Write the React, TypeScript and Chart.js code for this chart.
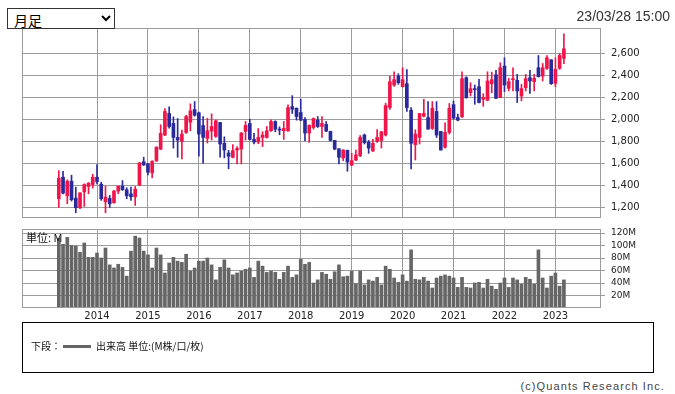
import React, { useEffect, useRef } from 'react';
import { Chart, registerables } from 'chart.js';

Chart.register(...registerables);

// Monthly candles, 2013/04 .. 2023/03
const yearLabels = ['2014', '2015', '2016', '2017', '2018', '2019', '2020', '2021', '2022', '2023'];
const firstMonthOffset = 9; // index of 2014/01 (series starts 2013/04)

const openP = [
  1276, 1473, 1303, 1436, 1282, 1194, 1339, 1388, 1406, 1473, 1409, 1248, 1279, 1239, 1346, 1391, 1358, 1321, 1294, 1400,
  1615, 1594, 1512, 1624, 1730, 1858, 2055, 1964, 1836, 1800, 1882, 1976, 2091, 2061, 1945, 1827, 1894, 1846, 1973, 1782,
  1694, 1655, 1721, 1730, 1891, 1964, 1818, 1794, 1836, 1836, 1897, 1982, 1912, 1897, 1897, 2118, 2103, 2064, 2000, 1876,
  1927, 1994, 1936, 1955, 1891, 1809, 1733, 1649, 1718, 1582, 1630, 1670, 1858, 1791, 1712, 1800, 1809, 1858, 2109, 2315,
  2397, 2300, 2327, 2085, 1770, 1836, 2030, 2018, 1918, 2073, 1891, 1746, 1882, 2136, 2018, 2024, 2382, 2245, 2282, 2300,
  2185, 2176, 2327, 2409, 2200, 2488, 2285, 2364, 2358, 2215, 2291, 2382, 2346, 2473, 2397, 2467, 2546, 2330, 2467, 2558,
];
const closeP = [
  1464, 1327, 1436, 1267, 1194, 1330, 1406, 1418, 1473, 1433, 1276, 1291, 1230, 1346, 1391, 1358, 1303, 1294, 1364, 1603,
  1585, 1518, 1618, 1746, 1873, 2073, 1936, 1836, 1812, 1867, 2027, 2079, 2039, 1867, 1836, 1897, 1936, 1988, 1776, 1721,
  1664, 1715, 1736, 1876, 1946, 1818, 1794, 1836, 1858, 1897, 1982, 1912, 1903, 1918, 2109, 2094, 2027, 1994, 1876, 1946,
  2009, 1936, 1964, 1894, 1809, 1730, 1655, 1721, 1612, 1624, 1676, 1836, 1788, 1739, 1782, 1836, 1888, 2127, 2346, 2364,
  2336, 2364, 2109, 1782, 1867, 2055, 2055, 1912, 2103, 1858, 1721, 1882, 2103, 2012, 1994, 2373, 2200, 2282, 2273, 2155,
  2200, 2352, 2364, 2194, 2473, 2315, 2346, 2373, 2261, 2282, 2373, 2352, 2376, 2391, 2473, 2564, 2327, 2458, 2585, 2646,
];
const highP = [
  1533, 1527, 1449, 1491, 1382, 1330, 1412, 1424, 1500, 1588, 1427, 1391, 1306, 1352, 1391, 1442, 1376, 1382, 1388, 1609,
  1655, 1600, 1624, 1752, 1952, 2100, 2115, 2024, 2009, 1903, 2039, 2143, 2164, 2067, 2027, 2012, 2052, 1994, 1973, 1842,
  1718, 1770, 1752, 1882, 1982, 2003, 1873, 1918, 1888, 1936, 1997, 1988, 1933, 1982, 2133, 2218, 2106, 2185, 2018, 1952,
  2015, 2027, 2027, 1982, 1894, 1809, 1733, 1724, 1721, 1691, 1721, 1852, 1867, 1809, 1818, 1909, 1891, 2149, 2397, 2436,
  2418, 2473, 2455, 2109, 1906, 2055, 2185, 2164, 2164, 2164, 1891, 1970, 2146, 2170, 2049, 2436, 2391, 2336, 2315, 2367,
  2236, 2436, 2433, 2449, 2518, 2564, 2376, 2473, 2412, 2321, 2412, 2449, 2412, 2585, 2512, 2585, 2546, 2564, 2603, 2782,
];
const lowP = [
  1197, 1321, 1230, 1255, 1148, 1185, 1206, 1321, 1373, 1412, 1261, 1148, 1197, 1236, 1321, 1352, 1276, 1261, 1215, 1394,
  1579, 1494, 1467, 1615, 1724, 1852, 1921, 1739, 1655, 1640, 1873, 1897, 2030, 1664, 1600, 1785, 1812, 1836, 1655, 1649,
  1549, 1649, 1594, 1594, 1812, 1812, 1776, 1779, 1752, 1830, 1891, 1888, 1861, 1818, 1891, 2055, 1994, 1988, 1806, 1791,
  1912, 1927, 1836, 1888, 1803, 1724, 1594, 1624, 1527, 1579, 1624, 1661, 1776, 1691, 1709, 1791, 1739, 1849, 2091, 2303,
  2321, 2297, 2073, 1549, 1630, 1776, 2024, 1912, 1909, 1836, 1721, 1739, 1867, 2003, 1988, 2018, 2194, 2215, 2139, 2152,
  2121, 2170, 2245, 2191, 2200, 2255, 2261, 2261, 2155, 2170, 2261, 2239, 2261, 2388, 2352, 2458, 2321, 2300, 2458, 2509,
];
// Volume in millions
const volumeM = [
  112, 102, 113, 100, 99, 89, 104, 81, 81, 88, 80, 96, 69, 64, 70, 65, 51, 91, 115, 112,
  91, 85, 64, 96, 85, 56, 72, 81, 75, 73, 86, 59, 64, 75, 75, 80, 69, 45, 65, 77,
  64, 53, 56, 59, 62, 64, 49, 75, 67, 57, 59, 57, 46, 57, 67, 49, 53, 78, 70, 73,
  40, 45, 57, 54, 46, 58, 69, 50, 51, 59, 39, 59, 37, 45, 43, 49, 37, 67, 62, 48,
  41, 53, 43, 93, 46, 45, 49, 43, 32, 48, 51, 53, 51, 48, 33, 49, 33, 32, 40, 41,
  32, 46, 35, 30, 40, 48, 33, 48, 45, 38, 49, 46, 38, 93, 48, 32, 51, 56, 35, 45,
];
const priceTicks = [1200, 1400, 1600, 1800, 2000, 2200, 2400, 2600];
const volumeTicks = [20, 40, 60, 80, 100, 120];

const UP = '#f0154a';
const DOWN = '#2a2a9c';
const GRID = '#9c9c9c';
const VOL = '#666666';
const X_MIN = -8.67;
const X_MAX = 127.74;

const framePlugin = {
  id: 'frame',
  afterDatasetsDraw(chart: any) {
    const { ctx, chartArea: a } = chart;
    ctx.save();
    ctx.strokeStyle = GRID;
    ctx.lineWidth = 1;
    const l = Math.round(a.left) + 0.5;
    const t = Math.round(a.top) + 0.5;
    const r = Math.round(a.right) - 0.5;
    const b = Math.round(a.bottom) - 0.5;
    ctx.strokeRect(l, t, r - l, b - t);
    ctx.restore();
  },
};

const noPad = (s: any) => {
  s.paddingTop = 0;
  s.paddingBottom = 0;
  s.paddingLeft = 0;
  s.paddingRight = 0;
};

export default function App() {
  const mainRef = useRef<HTMLCanvasElement>(null);
  const volRef = useRef<HTMLCanvasElement>(null);

  useEffect(() => {
    Chart.defaults.font.family = '"DejaVu Sans", sans-serif';
    const idx = openP.map((_, i) => i);
    const colors = idx.map((i) => (closeP[i] >= openP[i] ? UP : DOWN));
    const yearTickValues = yearLabels.map((_, k) => firstMonthOffset + 12 * k);

    const main = new Chart(mainRef.current as HTMLCanvasElement, {
      type: 'bar',
      data: {
        datasets: [
          {
            data: idx.map((i) => ({ x: i, y: [lowP[i], highP[i]] })) as any,
            backgroundColor: colors,
            barThickness: 1,
            grouped: false,
            minBarLength: 1,
          },
          {
            data: idx.map((i) => ({ x: i, y: [openP[i], closeP[i]] })) as any,
            backgroundColor: colors,
            barThickness: 3,
            grouped: false,
            minBarLength: 1,
          },
        ],
      },
      options: {
        animation: false,
        responsive: false,
        layout: { padding: { left: 22, top: 28, right: 0, bottom: 7 } },
        plugins: { legend: { display: false }, tooltip: { enabled: false } },
        scales: {
          x: {
            type: 'linear',
            offset: false,
            min: X_MIN,
            max: X_MAX,
            afterBuildTicks: (s: any) => {
              s.ticks = yearTickValues.map((v) => ({ value: v }));
            },
            afterFit: (s: any) => {
              s.height = 0;
              noPad(s);
            },
            ticks: { display: false },
            grid: { color: GRID, drawTicks: false, offset: false },
            border: { display: false },
          },
          y: {
            position: 'right',
            min: 1100,
            max: 2836,
            afterBuildTicks: (s: any) => {
              s.ticks = priceTicks.map((v) => ({ value: v }));
            },
            afterFit: (s: any) => {
              s.width = 74;
              noPad(s);
            },
            ticks: {
              color: '#222',
              font: { size: 10 },
              padding: 6,
              callback: (v: any) => Number(v).toLocaleString('en-US'),
            },
            grid: { color: GRID, tickLength: 4 },
            border: { display: false },
          },
        },
      },
      plugins: [framePlugin],
    });

    const vol = new Chart(volRef.current as HTMLCanvasElement, {
      type: 'bar',
      data: {
        datasets: [
          {
            data: idx.map((i) => ({ x: i, y: volumeM[i] })) as any,
            backgroundColor: VOL,
            barThickness: 3,
          },
        ],
      },
      options: {
        animation: false,
        responsive: false,
        layout: { padding: { left: 22, top: 7, right: 0, bottom: 0 } },
        plugins: { legend: { display: false }, tooltip: { enabled: false } },
        scales: {
          x: {
            type: 'linear',
            offset: false,
            min: X_MIN,
            max: X_MAX,
            afterBuildTicks: (s: any) => {
              s.ticks = yearTickValues.map((v) => ({ value: v }));
            },
            afterFit: (s: any) => {
              s.height = 14;
              noPad(s);
            },
            ticks: {
              color: '#222',
              font: { size: 10 },
              padding: 2,
              maxRotation: 0,
              autoSkip: false,
              callback: (_v: any, i: number) => yearLabels[i],
            },
            grid: { color: GRID, drawTicks: false, offset: false },
            border: { display: false },
          },
          y: {
            position: 'right',
            min: 0,
            max: 126.4,
            afterBuildTicks: (s: any) => {
              s.ticks = volumeTicks.map((v) => ({ value: v }));
            },
            afterFit: (s: any) => {
              s.width = 74;
              noPad(s);
            },
            ticks: {
              color: '#222',
              font: { size: 9 },
              padding: 6,
              callback: (v: any) => `${v}M`,
            },
            grid: { color: GRID, tickLength: 4 },
            border: { display: false },
          },
        },
      },
      plugins: [framePlugin],
    });

    return () => {
      main.destroy();
      vol.destroy();
    };
  }, []);

  const cjk = '"Noto Sans CJK JP", "Noto Sans", sans-serif';

  return (
    <div style={{ position: 'absolute', left: 0, top: 0, width: 675, height: 394, background: '#fff', overflow: 'hidden' }}>
      <canvas ref={mainRef} width={675} height={225} style={{ position: 'absolute', left: 0, top: 0 }} />
      <canvas ref={volRef} width={675} height={100} style={{ position: 'absolute', left: 0, top: 222 }} />
      <select
        defaultValue="月足"
        style={{
          position: 'absolute',
          left: 7,
          top: 8,
          width: 108,
          height: 21,
          fontSize: 14,
          fontFamily: cjk,
          border: '1px solid #333',
          borderRadius: 0,
          background: '#fff',
          padding: '0 2px',
        }}
      >
        <option value="月足">月足</option>
      </select>
      <div
        style={{
          position: 'absolute',
          right: 5,
          top: 8,
          fontSize: 14,
          fontFamily: '"Liberation Sans", Arial, sans-serif',
          color: '#333',
          lineHeight: '16px',
        }}
      >
        23/03/28 15:00
      </div>
      <div
        style={{
          position: 'absolute',
          left: 26,
          top: 230,
          fontSize: 11,
          fontFamily: cjk,
          color: '#111',
          lineHeight: '14px',
        }}
      >
        単位: M
      </div>
      <div
        style={{
          position: 'absolute',
          left: 22,
          top: 322,
          width: 632,
          height: 51,
          border: '1px solid #000',
          boxSizing: 'border-box',
        }}
      >
        <div
          style={{
            position: 'absolute',
            left: 8,
            top: 16,
            fontSize: 10,
            fontFamily: cjk,
            color: '#111',
            display: 'flex',
            alignItems: 'center',
            lineHeight: '14px',
            whiteSpace: 'nowrap',
          }}
        >
          <span>下段：</span>
          <span style={{ display: 'inline-block', width: 28, height: 3, background: VOL, margin: '0 5px 0 2px' }} />
          <span>出来高 単位:(M株/口/枚)</span>
        </div>
      </div>
      <div
        style={{
          position: 'absolute',
          right: 10,
          top: 379,
          fontSize: 11,
          fontFamily: '"Liberation Sans", Arial, sans-serif',
          color: '#444',
          lineHeight: '14px',
          letterSpacing: '1.1px',
        }}
      >
        (c)Quants Research Inc.
      </div>
    </div>
  );
}
